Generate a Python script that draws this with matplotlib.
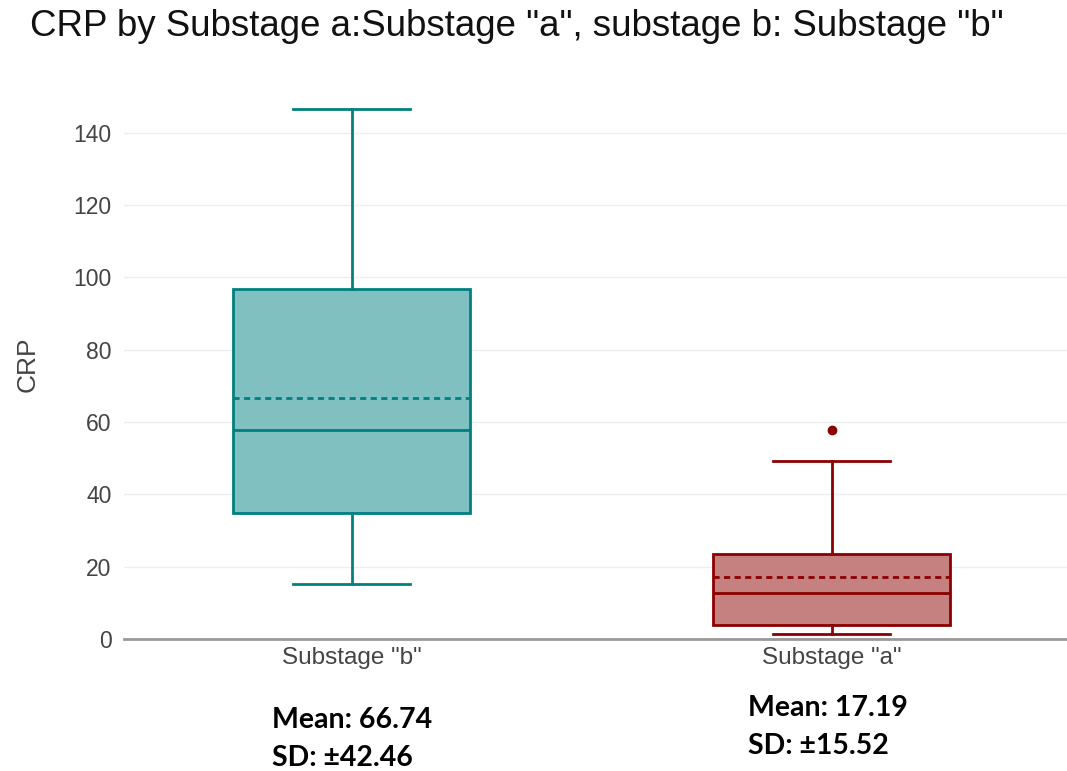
import matplotlib.pyplot as plt

# values
groups = ['Substage "b"', 'Substage "a"']
q1 = [34.8, 3.8]
med = [57.8, 12.8]
q3 = [96.8, 23.6]
whislo = [15.1, 1.3]
whishi = [146.6, 49.2]
means = [66.74, 17.19]
sds = [42.46, 15.52]
outliers = [[], [57.8]]
edge_colors = ['#008080', '#8B0000']
fill_colors = ['#80C0C0', '#C58080']

plt.rcParams['font.family'] = ['Liberation Sans', 'DejaVu Sans']

fig = plt.figure(figsize=(10.67, 7.71), dpi=100)
ax = fig.add_axes([0.1162, 0.1712, 0.8838, 0.7127])

stats = []
for i in range(len(groups)):
    stats.append(dict(label=groups[i], q1=q1[i], med=med[i], q3=q3[i],
                      whislo=whislo[i], whishi=whishi[i], mean=means[i],
                      fliers=outliers[i]))

for i, s in enumerate(stats):
    c = edge_colors[i]
    ax.bxp([s], positions=[i], widths=0.494, patch_artist=True,
           showmeans=True, meanline=True, showfliers=True,
           boxprops=dict(facecolor=fill_colors[i], edgecolor=c, linewidth=2),
           medianprops=dict(color=c, linewidth=2),
           meanprops=dict(color=c, linewidth=2, linestyle=(0, (2.2, 1.6))),
           whiskerprops=dict(color=c, linewidth=2),
           capprops=dict(color=c, linewidth=2),
           capwidths=0.244,
           flierprops=dict(marker='o', markerfacecolor=c, markeredgecolor=c,
                           markersize=6),
           zorder=3)

ax.set_xlim(-0.474, 1.49)
ax.set_ylim(0, 152)
ax.set_yticks(range(0, 141, 20))
ax.set_xticks([0, 1])
ax.set_xticklabels(groups)
ax.grid(axis='y', color='#eeeeee', linewidth=1, zorder=0)
ax.set_axisbelow(True)
for sp in ['top', 'right', 'left']:
    ax.spines[sp].set_visible(False)
ax.spines['bottom'].set_color('#999999')
ax.spines['bottom'].set_linewidth(2)
ax.tick_params(axis='y', length=0, labelsize=16.5, colors='#444444', pad=9)
ax.tick_params(axis='x', length=0, labelsize=17.5, colors='#444444', pad=6)
ax.set_ylabel('CRP', fontsize=19, color='#444444', labelpad=24)

fig.text(0.028, 0.965, 'CRP by Substage a:Substage "a", substage b: Substage "b"',
         fontsize=26.4, color='#111111', va='center', ha='left')

# mean / sd notes under each group
note_x = [0.255, 0.701]
mean_y = [0.0661, 0.0817]
sd_y = [0.0169, 0.0324]
for i in range(len(groups)):
    fig.text(note_x[i], mean_y[i], 'Mean: %.2f' % means[i],
             fontsize=20.5, fontweight='bold', family=['Lato', 'DejaVu Sans'],
             ha='left', va='center', color='black')
    fig.text(note_x[i], sd_y[i], 'SD: \u00b1%.2f' % sds[i],
             fontsize=20.5, fontweight='bold', family=['Lato', 'DejaVu Sans'],
             ha='left', va='center', color='black')

fig.savefig('out.png', dpi=100)
